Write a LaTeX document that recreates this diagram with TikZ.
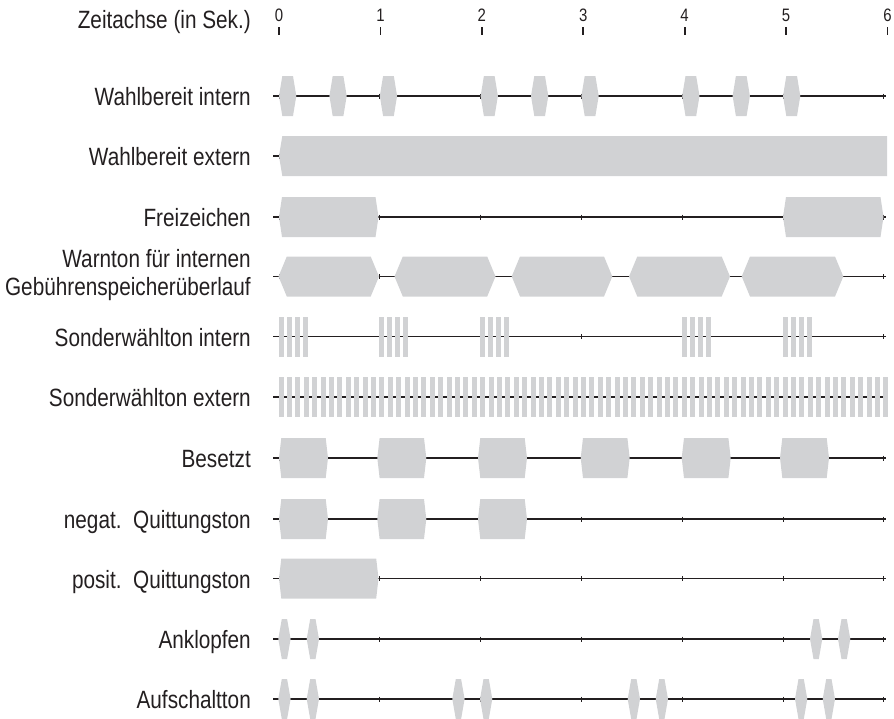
\documentclass[tikz,border=0pt]{standalone}
\usepackage{fontspec}
\setmainfont{Liberation Sans}[FakeStretch=0.83]
\definecolor{tone}{HTML}{D1D2D4}
\definecolor{ln}{HTML}{231F20}
\tikzset{
  sigline/.style={draw=ln, line width=1.6pt},
  tickl/.style={draw=ln, line width=0.8pt},
  axtick/.style={draw=ln, line width=1.8pt},
  lbl/.style={anchor=base east, inner sep=0pt, font=\fontsize{25}{30}\selectfont, text=ln},
  numlbl/.style={anchor=base, inner sep=0pt, font=\fontsize{18}{21}\selectfont, text=ln},
}
% x-start, width, y, inset
\newcommand\tsig[4]{%
  \fill[tone] ({#1},{#3}) -- ({#1+#4},{#3-20}) -- ({#1+#2-#4},{#3-20}) -- ({#1+#2},{#3}) -- ({#1+#2-#4},{#3+20}) -- ({#1+#4},{#3+20}) -- cycle;}
\newcommand\tbar[2]{% x-start, y
  \fill[tone] ({#1},{#2-20}) rectangle ({#1+5},{#2+20});}
\newcommand\sigrow[3]{%
  \coordinate (#1s) at (273,#2);
  \coordinate (#1e) at (886,#2);
  \draw[sigline] (#1s) -- (#1e);
  \foreach \i in {0,...,6} {\draw[tickl] ({279+100.8*\i},{#2-2.5}) -- ({279+100.8*\i},{#2+2.5});}
  \node[lbl] (#1l) at (251,{#2+9.5}) {#3};}
\begin{document}
\begin{tikzpicture}[x=1pt,y=-1pt]
\useasboundingbox (0,0) rectangle (894,718);
% time axis
\node[lbl] (axl) at (251,28) {Zeitachse (in Sek.)};
\foreach \i in {0,...,6} {
  \coordinate (ta\i) at ({279+101.4*\i},27);
  \coordinate (tb\i) at ({279+101.4*\i},35);
  \draw[axtick] (ta\i) -- (tb\i);
  \node[numlbl] (n\i) at ({279+101.4*\i},21) {\i};
}
% rows
\sigrow{r1}{96}{Wahlbereit intern}
\sigrow{r2}{156}{Wahlbereit extern}
\sigrow{r3}{217}{Freizeichen}
\sigrow{r4}{276.5}{}
\node[lbl] (r4la) at (251,267.5) {Warnton für internen};
\node[lbl] (r4lb) at (251,295.5) {Gebührenspeicherüberlauf};
\sigrow{r5}{336.5}{Sonderwählton intern}
\sigrow{r6}{397}{Sonderwählton extern}
\sigrow{r7}{458}{Besetzt}
\sigrow{r8}{519}{negat.\ \ Quittungston}
\sigrow{r9}{578.5}{posit.\ \ Quittungston}
\sigrow{r10}{639}{Anklopfen}
\sigrow{r11}{699}{Aufschaltton}
% Wahlbereit intern
\foreach \t in {0,0.5,1,2,2.5,3,4,4.5,5} {\tsig{279+100.8*\t}{17.3}{96}{3.3}}
% Wahlbereit extern
\fill[tone] (279,156) -- (282.3,136) -- (887,136) -- (887,176) -- (282.3,176) -- cycle;
% Freizeichen
\tsig{279}{99.5}{217}{3}
\tsig{783}{100.5}{217}{3}
% Warnton
\tsig{278.5}{100.5}{276.5}{8.3}
\tsig{394.5}{101}{276.5}{8.3}
\tsig{511.7}{100.6}{276.5}{8.3}
\tsig{629}{101}{276.5}{8.3}
\tsig{741.7}{101.6}{276.5}{8.3}
% Sonderwaehlton intern
\foreach \g in {0,1,2,4,5} {\foreach \k in {0,...,3} {\tbar{278.5+100.8*\g+8*\k}{336.5}}}
% Sonderwaehlton extern
\foreach \k in {0,...,72} {\tbar{278.5+8.4*\k}{397}}
% Besetzt
\foreach \x in {279,377.3,478,580.7,681.7,780} {\tsig{\x}{49}{458}{2.3}}
% negat.
\foreach \x in {279,377.3,478} {\tsig{\x}{49}{519}{2.3}}
% posit.
\tsig{279}{99.5}{578.5}{2.3}
% Anklopfen
\foreach \x in {278.3,306.7,810,838} {\tsig{\x}{12.3}{639}{3.5}}
% Aufschaltton
\foreach \x in {278.3,306.7,452.3,480,627.7,655.7,795,822.7} {\tsig{\x}{12.3}{699}{3.5}}
\end{tikzpicture}
\end{document}
